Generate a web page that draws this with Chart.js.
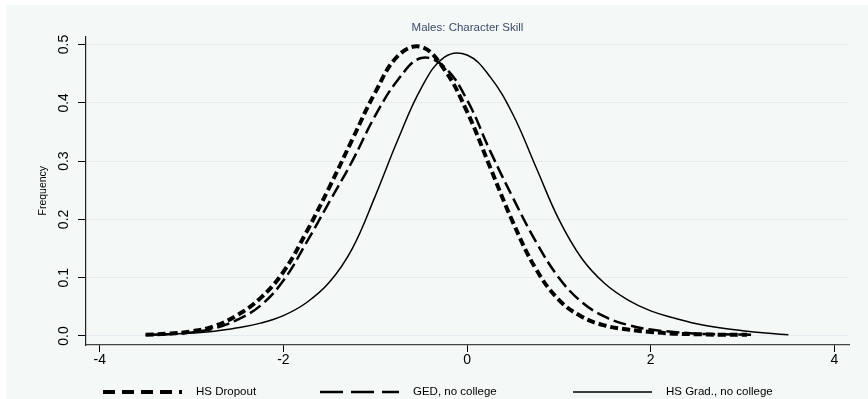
<!DOCTYPE html>
<html>
<head>
<meta charset="utf-8">
<script src="https://cdn.jsdelivr.net/npm/chart.js@4.4.1/dist/chart.umd.min.js"></script>
<style>
  html, body { margin: 0; padding: 0; background: #ffffff; }
  #wrap { width: 868px; height: 399px; }
</style>
</head>
<body>
<div id="wrap"><canvas id="c" width="868" height="399"></canvas></div>
<script>
// ---- data ----
const chartTitle = "Males: Character Skill";
const yAxisTitle = "Frequency";
const seriesNames = ["HS Dropout", "GED, no college", "HS Grad., no college"];

const dropoutX = [-3.5,-3.25,-3,-2.75,-2.5,-2.25,-2,-1.75,-1.5,-1.25,-1,-0.75,-0.5,-0.25,0,0.25,0.5,0.75,1,1.25,1.5,1.75,2,2.25,2.5,2.75,3.05];
const dropoutY = [0.002,0.004,0.008,0.017,0.036,0.065,0.11,0.178,0.255,0.337,0.418,0.481,0.496,0.458,0.385,0.29,0.195,0.115,0.062,0.033,0.018,0.011,0.007,0.004,0.003,0.002,0.002];

const gedX = [-3.5,-3.25,-3,-2.75,-2.5,-2.25,-2,-1.75,-1.5,-1.25,-1,-0.75,-0.5,-0.25,0,0.25,0.5,0.75,1,1.25,1.5,1.75,2,2.25,2.5,2.75,3.13];
const gedY = [0.002,0.003,0.006,0.013,0.028,0.052,0.095,0.16,0.23,0.30,0.378,0.44,0.477,0.462,0.405,0.318,0.237,0.162,0.1,0.058,0.033,0.019,0.011,0.007,0.004,0.003,0.002];

const gradX = [-3.5,-3.25,-3,-2.75,-2.5,-2.25,-2,-1.75,-1.5,-1.25,-1,-0.75,-0.5,-0.25,0,0.25,0.5,0.75,1,1.25,1.5,1.75,2,2.25,2.5,2.75,3,3.25,3.5];
const gradY = [0.0015,0.003,0.005,0.008,0.014,0.022,0.035,0.057,0.092,0.15,0.24,0.338,0.425,0.478,0.482,0.445,0.38,0.29,0.2,0.133,0.09,0.062,0.043,0.031,0.021,0.014,0.009,0.005,0.002];

const xTicks = [-4, -2, 0, 2, 4];
const yTicks = [0, 0.1, 0.2, 0.3, 0.4, 0.5];

// ---- helpers ----
const toPts = (xs, ys) => xs.map((x, i) => ({ x: x, y: ys[i] }));
const FONT = "'Liberation Sans', Arial, Helvetica, sans-serif";

const bgPlugin = {
  id: 'bg',
  beforeDraw(chart) {
    const ctx = chart.ctx;
    ctx.save();
    ctx.fillStyle = '#ffffff';
    ctx.fillRect(0, 0, chart.width, chart.height);
    ctx.fillStyle = '#f4f8f6';
    ctx.fillRect(6, 5, chart.width - 6, chart.height - 5);
    ctx.restore();
  }
};

const legendStyles = [
  { dash: [12, 7], start: 103 },
  { dash: [23, 8], start: 320 },
  { dash: [], start: 573 }
];
const legendPlugin = {
  id: 'customLegend',
  afterDraw(chart) {
    const ctx = chart.ctx;
    const y = 392;
    ctx.save();
    chart.data.datasets.forEach((ds, i) => {
      const st = legendStyles[i];
      ctx.beginPath();
      ctx.setLineDash(st.dash);
      ctx.lineCap = 'butt';
      ctx.lineWidth = ds.borderWidth;
      ctx.strokeStyle = ds.borderColor;
      ctx.moveTo(st.start, y);
      ctx.lineTo(st.start + 79, y);
      ctx.stroke();
      ctx.setLineDash([]);
      ctx.fillStyle = '#000';
      ctx.font = '11.5px ' + FONT;
      ctx.textBaseline = 'middle';
      ctx.textAlign = 'left';
      ctx.fillText(ds.label, st.start + 93, y);
    });
    ctx.restore();
  }
};

new Chart(document.getElementById('c'), {
  type: 'line',
  data: {
    datasets: [
      { label: seriesNames[0], data: toPts(dropoutX, dropoutY), borderColor: '#000', borderWidth: 4, borderDash: [8, 4] },
      { label: seriesNames[1], data: toPts(gedX, gedY), borderColor: '#000', borderWidth: 2.5, borderDash: [13, 5] },
      { label: seriesNames[2], data: toPts(gradX, gradY), borderColor: '#000', borderWidth: 1.5, borderDash: [] }
    ]
  },
  options: {
    responsive: false,
    animation: false,
    devicePixelRatio: 1,
    layout: { padding: { left: 0, right: 19, top: 0, bottom: 0 } },
    elements: {
      point: { radius: 0, hoverRadius: 0 },
      line: { tension: 0.4, borderCapStyle: 'butt', fill: false }
    },
    plugins: {
      legend: { display: false },
      tooltip: { enabled: false },
      title: {
        display: true,
        text: chartTitle,
        fullSize: false,
        color: '#3c4a6b',
        font: { family: FONT, size: 11.5, weight: 'normal' },
        padding: { top: 21, bottom: 1.6 }
      }
    },
    scales: {
      x: {
        type: 'linear',
        min: -4.15,
        max: 4.16,
        afterBuildTicks: s => { s.ticks = xTicks.map(v => ({ value: v })); },
        afterFit: s => { s.height = 54; },
        grid: { drawOnChartArea: false, drawTicks: true, tickLength: 7, tickColor: '#000', tickWidth: 1 },
        border: { display: true, color: '#444', width: 1.2 },
        ticks: {
          color: '#000',
          font: { family: FONT, size: 14 },
          padding: 0,
          maxRotation: 0,
          callback: v => String(v)
        }
      },
      y: {
        type: 'linear',
        min: -0.0155,
        max: 0.514,
        afterBuildTicks: s => { s.ticks = yTicks.map(v => ({ value: v })); },
        afterFit: s => { s.width = 86; },
        grid: { drawOnChartArea: true, color: '#e5ebf0', lineWidth: 1, drawTicks: true, tickLength: 8, tickColor: '#000', tickWidth: 1 },
        border: { display: true, color: '#222', width: 1.2 },
        title: {
          display: true,
          text: yAxisTitle,
          color: '#000',
          font: { family: FONT, size: 10.5 },
          padding: { top: 36.7, bottom: 0 }
        },
        ticks: {
          color: '#000',
          font: { family: FONT, size: 14 },
          minRotation: 90,
          maxRotation: 90,
          crossAlign: 'center',
          padding: 4,
          callback: v => Number(v).toFixed(1)
        }
      }
    }
  },
  plugins: [bgPlugin, legendPlugin]
});
</script>
</body>
</html>
